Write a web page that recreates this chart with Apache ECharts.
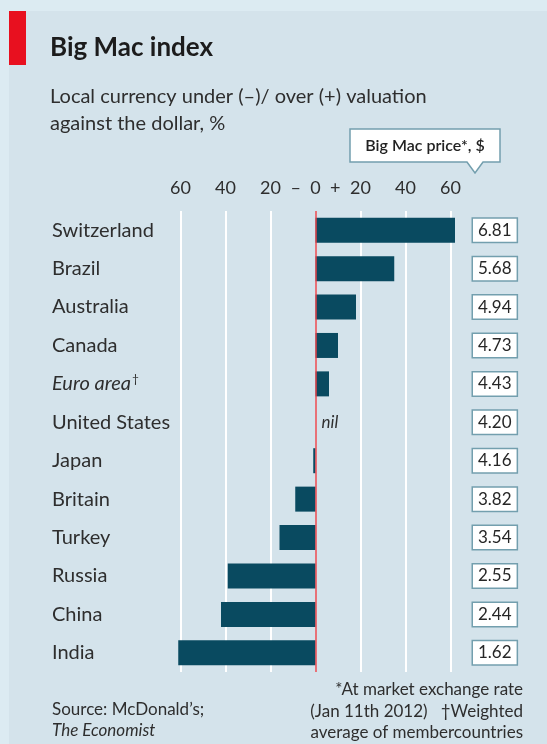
<!DOCTYPE html>
<html>
<head>
<meta charset="utf-8">
<script src="https://cdn.jsdelivr.net/npm/echarts@6/dist/echarts.min.js"></script>
<style>
  html, body { margin: 0; padding: 0; background: #dcebf2; }
  #chart { width: 547px; height: 744px; }
</style>
</head>
<body>
<div id="chart"></div>
<script>
// data
const countries = ['Switzerland', 'Brazil', 'Australia', 'Canada', 'Euro area', 'United States',
  'Japan', 'Britain', 'Turkey', 'Russia', 'China', 'India']
const valuation = [62, 35, 18, 10, 6, 0, -1, -9, -16, -39, -42, -61]
const prices = ['6.81', '5.68', '4.94', '4.73', '4.43', '4.20', '4.16', '3.82', '3.54', '2.55', '2.44', '1.62']
const xTicks = [-60, -40, -20, 0, 20, 40, 60]

const FONT = 'Lato'
const TEXT = '#2e2e2e'

const chart = echarts.init(document.getElementById('chart'), null, { renderer: 'canvas' })

const barData = valuation.map((v, i) => {
  if (countries[i] === 'United States') {
    return {
      value: v,
      label: {
        show: true,
        position: 'right',
        distance: 6,
        formatter: 'nil',
        fontStyle: 'italic',
        fontFamily: FONT,
        fontSize: 17,
        color: TEXT
      }
    }
  }
  return v
})

const option = {
  backgroundColor: '#dcebf2',
  animation: false,
  textStyle: { fontFamily: FONT },
  grid: {
    left: 180.5,
    right: 96.5,
    top: 211,
    bottom: 72
  },
  xAxis: {
    type: 'value',
    position: 'top',
    min: xTicks[0],
    max: xTicks[xTicks.length - 1],
    interval: 20,
    axisLine: { show: false },
    axisTick: { show: false },
    splitLine: { show: true, lineStyle: { color: '#ffffff', width: 2 } },
    axisLabel: {
      margin: 14,
      fontFamily: FONT,
      fontSize: 18,
      color: TEXT,
      formatter: (v) => (v === 0 ? '–  0  +' : String(Math.abs(v)))
    }
  },
  yAxis: [
    {
      type: 'category',
      inverse: true,
      data: countries,
      axisLine: { show: false },
      axisTick: { show: false },
      axisLabel: {
        align: 'left',
        margin: 128.5,
        fontFamily: FONT,
        fontSize: 20,
        color: TEXT,
        formatter: (v) => (v === 'Euro area' ? '{it|Euro area}{sup|†}' : v),
        rich: {
          it: { fontStyle: 'italic', fontFamily: FONT, fontSize: 20, color: TEXT },
          sup: { fontFamily: FONT, fontSize: 12, color: TEXT, padding: [0, 0, 9, 1] }
        }
      }
    },
    {
      type: 'category',
      inverse: true,
      position: 'right',
      data: prices,
      axisLine: { show: false },
      axisTick: { show: false },
      axisLabel: {
        align: 'left',
        margin: 22.5,
        fontFamily: FONT,
        fontSize: 17,
        color: '#262626',
        backgroundColor: '#ffffff',
        borderColor: '#739fae',
        borderWidth: 1.5,
        padding: [4, 5, 2, 5]
      }
    }
  ],
  series: [
    {
      type: 'bar',
      yAxisIndex: 0,
      data: barData,
      barWidth: 25,
      clip: false,
      itemStyle: { color: '#094a60' },
      markLine: {
        silent: true,
        symbol: 'none',
        label: { show: false },
        lineStyle: { color: '#e0424a', width: 1.5, type: 'solid' },
        data: [{ xAxis: 0 }]
      },
      z: 3
    }
  ],
  graphic: [
    // inner panel
    { type: 'rect', shape: { x: 9, y: 11, width: 538, height: 733 }, style: { fill: '#d4e3eb' }, z: -10 },
    // red tab
    { type: 'rect', shape: { x: 9, y: 11, width: 17, height: 54 }, style: { fill: '#e8101f' } },
    {
      type: 'text', left: 50, top: 35,
      style: { text: 'Big Mac index', font: 'bold 26px ' + FONT, fill: '#1c1c1c' }
    },
    {
      type: 'text', left: 50, top: 83,
      style: {
        text: 'Local currency under (–)/ over (+) valuation\nagainst the dollar, %',
        font: '20px ' + FONT, fill: TEXT, lineHeight: 27
      }
    },
    // price legend box with pointer
    {
      type: 'polygon',
      shape: { points: [[350, 129], [500, 129], [500, 162], [483, 162], [475, 173], [467, 162], [350, 162]] },
      style: { fill: '#ffffff', stroke: '#739fae', lineWidth: 1.5 }
    },
    {
      type: 'text', x: 425, y: 145.5,
      style: { text: 'Big Mac price*, $', font: '600 16px ' + FONT, fill: '#222', align: 'center', verticalAlign: 'middle' }
    },
    // footer
    {
      type: 'text', left: 52, top: 701,
      style: { text: 'Source: McDonald\u2019s;', font: '17px ' + FONT, fill: TEXT }
    },
    {
      type: 'text', left: 52, top: 722,
      style: { text: 'The Economist', font: 'italic 17px ' + FONT, fill: TEXT }
    },
    {
      type: 'text', x: 523, y: 679,
      style: {
        text: '*At market exchange rate\n(Jan 11th 2012)   \u2020Weighted\naverage of membercountries',
        font: '17px ' + FONT, fill: TEXT, align: 'right', lineHeight: 21.5
      }
    }
  ]
}

chart.setOption(option)
</script>
</body>
</html>
